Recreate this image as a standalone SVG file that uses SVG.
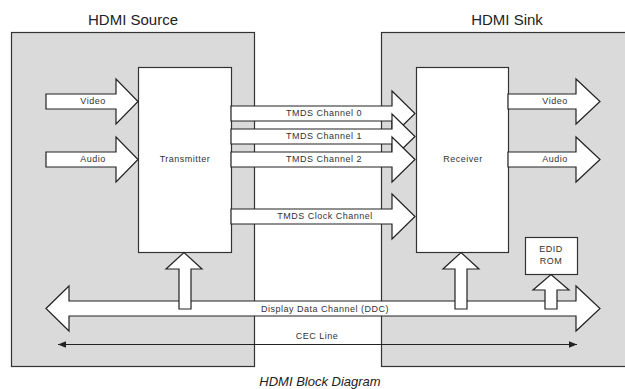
<svg xmlns="http://www.w3.org/2000/svg" width="625" height="389" viewBox="0 0 625 389">
  <defs>
    <style>
      .panel { fill: #dadada; stroke: #333; stroke-width: 1.2; }
      .block { fill: #fff; stroke: #333; stroke-width: 1.2; }
      .arrow { fill: #fff; stroke: #222; stroke-width: 1.2; stroke-linejoin: miter; }
      .wire { stroke: #222; stroke-width: 1; fill: none; }
      .lbl { font-family: "Liberation Sans", Arial, sans-serif; font-size: 9px; letter-spacing: 0.5px; fill: #333; text-anchor: middle; dominant-baseline: central; }
      .title { font-family: "Liberation Sans", Arial, sans-serif; font-size: 15px; fill: #222; text-anchor: middle; }
      .caption { font-family: "Liberation Sans", Arial, sans-serif; font-size: 13px; font-style: italic; fill: #222; text-anchor: middle; }
    </style>
    <marker id="tip" viewBox="0 0 10 10" refX="10" refY="5" markerWidth="8" markerHeight="8" markerUnits="userSpaceOnUse" orient="auto-start-reverse">
      <path d="M0,1 L10,5 L0,9 Z" fill="#222"/>
    </marker>
  </defs>

  <rect width="625" height="389" fill="#fff"/>

  <!-- Source device -->
  <g id="hdmi-source">
    <text class="title" x="133" y="25">HDMI Source</text>
    <rect class="panel" x="11.5" y="32.5" width="243" height="334"/>
  </g>

  <!-- Sink device (open on the right) -->
  <g id="hdmi-sink">
    <text class="title" x="507" y="25">HDMI Sink</text>
    <rect class="panel" x="381.5" y="32.5" width="260" height="334"/>
  </g>

  <g id="transmitter">
    <rect class="block" x="138.5" y="67.5" width="93" height="185"/>
    <text class="lbl" x="185" y="159">Transmitter</text>
  </g>

  <g id="receiver">
    <rect class="block" x="416.5" y="67.5" width="92" height="185"/>
    <text class="lbl" x="463" y="159">Receiver</text>
  </g>

  <g id="edid-rom">
    <rect class="block" x="525.5" y="237.5" width="52" height="37"/>
    <text class="lbl" x="551" y="249">EDID</text>
    <text class="lbl" x="551" y="261">ROM</text>
  </g>

  <!-- Connectors -->
  <g id="connectors">
    <!-- inputs to the transmitter -->
    <path class="arrow" d="M46,94 H116 V79 L138,101.5 L116,124 V109 H46 Z"/>
    <text class="lbl" x="93" y="101">Video</text>
    <path class="arrow" d="M46,152 H116 V137 L138,159.5 L116,182 V167 H46 Z"/>
    <text class="lbl" x="93" y="159">Audio</text>

    <!-- TMDS links -->
    <path class="arrow" d="M231,106 H392 V91 L415,113.5 L392,136 V121 H231 Z"/>
    <text class="lbl" x="324" y="113">TMDS Channel 0</text>
    <path class="arrow" d="M231,129 H392 V114 L415,136.5 L392,159 V144 H231 Z"/>
    <text class="lbl" x="324" y="136">TMDS Channel 1</text>
    <path class="arrow" d="M231,152 H392 V137 L415,159.5 L392,182 V167 H231 Z"/>
    <text class="lbl" x="324" y="159">TMDS Channel 2</text>
    <path class="arrow" d="M231,209 H392 V194 L415,216.5 L392,239 V224 H231 Z"/>
    <text class="lbl" x="325" y="216">TMDS Clock Channel</text>

    <!-- outputs from the receiver -->
    <path class="arrow" d="M508,94 H576 V79 L600,101.5 L576,124 V109 H508 Z"/>
    <text class="lbl" x="555" y="101">Video</text>
    <path class="arrow" d="M508,152 H576 V137 L600,159.5 L576,182 V167 H508 Z"/>
    <text class="lbl" x="555" y="159">Audio</text>

    <!-- DDC bus -->
    <path class="arrow" d="M46,308.5 L69,286 V301 H576 V286 L600,308.5 L576,331 V316 H69 V331 Z"/>
    <text class="lbl" x="325" y="309">Display Data Channel (DDC)</text>

    <!-- DDC taps -->
    <path class="arrow" d="M179,309 V269 H166 L184,252.5 L202,269 H191 V309 Z"/>
    <path class="arrow" d="M455,309 V269 H443 L461,252.5 L479,269 H467 V309 Z"/>
    <path class="arrow" d="M545,309 V290 H533 L551,274.5 L569,290 H557 V309 Z"/>

    <!-- CEC line -->
    <line class="wire" x1="58" y1="344.5" x2="577" y2="344.5" marker-start="url(#tip)" marker-end="url(#tip)"/>
    <text class="lbl" x="317" y="336">CEC Line</text>
  </g>

  <text class="caption" x="320" y="386">HDMI Block Diagram</text>
</svg>
